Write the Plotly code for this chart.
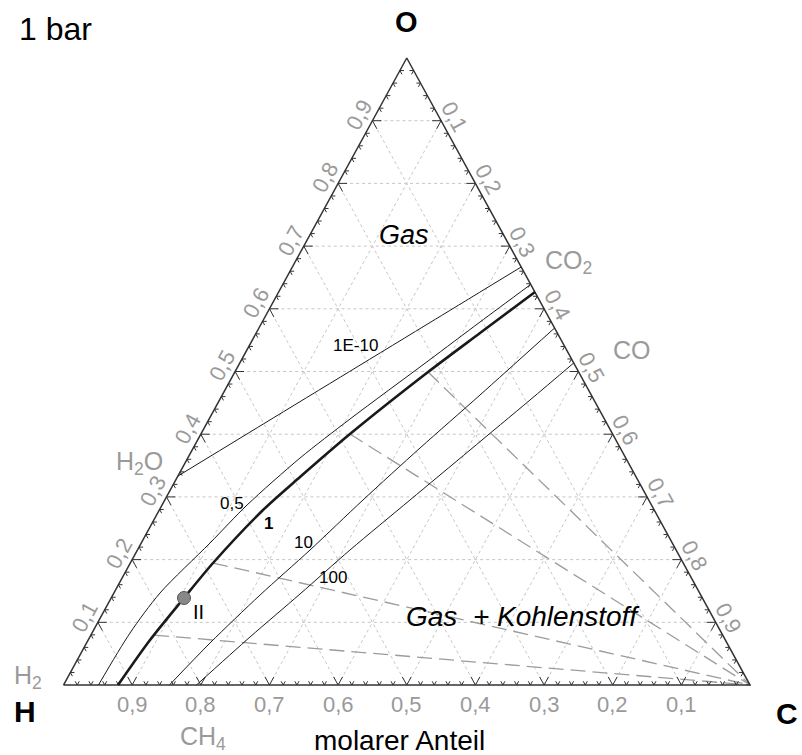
import numpy as np
import plotly.graph_objects as go

# C-H-O ternary at 1 bar: carbon activity isolines in the gas phase.
# Every composition is given as mole fractions (O, C); H = 1 - O - C.

iso_1e10_O = [0.3333, 0.4167, 0.5000, 0.5833, 0.6667]
iso_1e10_C = [0.0000, 0.0833, 0.1667, 0.2500, 0.3333]

iso_05_O = [0.0000, 0.0829, 0.1467, 0.2265, 0.2871, 0.3620, 0.4242, 0.5167, 0.5789, 0.6380]
iso_05_C = [0.0509, 0.0554, 0.0672, 0.1002, 0.1238, 0.1635, 0.2052, 0.2726, 0.3172, 0.3605]

iso_1_O = [0.0000, 0.0718, 0.1388, 0.1946, 0.2791, 0.3317, 0.4003, 0.4992, 0.5614, 0.6268]
iso_1_C = [0.0794, 0.0901, 0.1061, 0.1205, 0.1511, 0.1786, 0.2171, 0.2814, 0.3260, 0.3734]

iso_10_O = [0.0000, 0.0670, 0.1435, 0.2153, 0.2951, 0.3780, 0.4625, 0.5694]
iso_10_C = [0.1543, 0.1799, 0.2145, 0.2514, 0.2887, 0.3303, 0.3754, 0.4306]

iso_100_O = [0.0000, 0.0766, 0.1451, 0.2153, 0.2951, 0.3748, 0.4545, 0.5136]
iso_100_C = [0.1937, 0.2334, 0.2719, 0.3096, 0.3572, 0.4047, 0.4522, 0.4864]

# tie lines from the a_C = 1 boundary to pure carbon
tie_start_O = [0.4992, 0.4003, 0.1946, 0.0797]
tie_start_C = [0.2814, 0.2171, 0.1205, 0.0920]

# marked state "II" on the a_C = 1 boundary
point_O = [0.1388]
point_C = [0.1061]

tick_values = [0.1, 0.2, 0.3, 0.4, 0.5, 0.6, 0.7, 0.8, 0.9]
tick_labels = ["0,1", "0,2", "0,3", "0,4", "0,5", "0,6", "0,7", "0,8", "0,9"]


def proj(O, C):
    """Barycentric (O, C) -> plane: x = C + O/2, y = O (triangle base 1, height 1)."""
    O = np.asarray(O, dtype=float)
    C = np.asarray(C, dtype=float)
    return C + O / 2.0, O


def segments(pairs):
    xs, ys = [], []
    for (o1, c1), (o2, c2) in pairs:
        x, y = proj([o1, o2], [c1, c2])
        xs += list(x) + [None]
        ys += list(y) + [None]
    return xs, ys


fig = go.Figure()

# dotted grid, 0.1 steps for all three components
grid = []
for v in tick_values:
    grid.append(((v, 0.0), (v, 1.0 - v)))          # O = const
    grid.append(((0.0, v), (1.0 - v, v)))          # C = const
    grid.append(((0.0, 1.0 - v), (1.0 - v, 0.0)))  # H = const
gx, gy = segments(grid)
fig.add_trace(go.Scatter(x=gx, y=gy, mode="lines", hoverinfo="skip",
                         line=dict(color="#c6c6c6", width=1, dash="3px,3px")))

# tie lines to the carbon corner
for o, c in zip(tie_start_O, tie_start_C):
    x, y = proj([o, 0.0], [c, 1.0])
    fig.add_trace(go.Scatter(x=x, y=y, mode="lines", hoverinfo="skip",
                             line=dict(color="#9c9c9c", width=1.3, dash="15px,7px")))

# triangle frame H -> C -> O -> H
fx, fy = proj([0, 0, 1, 0], [0, 1, 0, 0])
fig.add_trace(go.Scatter(x=fx, y=fy, mode="lines", hoverinfo="skip",
                         line=dict(color="#333333", width=1.5)))

# tick marks every 0.02, longer every 0.1
ticks = []
for k in range(1, 50):
    v = k / 50.0
    L = 0.013 if k % 5 == 0 else 0.006
    # left edge (C = 0)
    ticks.append(((v, 0.0), (v, L)))
    ticks.append(((v, 0.0), (v - L, L)))
    # bottom edge (O = 0)
    ticks.append(((0.0, v), (L, v)))
    ticks.append(((0.0, v), (L, v - L)))
    # right edge (H = 0)
    ticks.append(((v, 1.0 - v), (v, 1.0 - v - L)))
    ticks.append(((v, 1.0 - v), (v - L, 1.0 - v)))
tx, ty = segments(ticks)
fig.add_trace(go.Scatter(x=tx, y=ty, mode="lines", hoverinfo="skip",
                         line=dict(color="#333333", width=1)))

# carbon activity isolines
for O, C, w in [(iso_1e10_O, iso_1e10_C, 1.0), (iso_05_O, iso_05_C, 1.0),
                (iso_10_O, iso_10_C, 1.0), (iso_100_O, iso_100_C, 1.0),
                (iso_1_O, iso_1_C, 2.6)]:
    x, y = proj(O, C)
    fig.add_trace(go.Scatter(x=x, y=y, mode="lines", hoverinfo="skip",
                             line=dict(color="#1a1a1a", width=w, shape="spline", smoothing=0.8)))

px_, py_ = proj(point_O, point_C)
fig.add_trace(go.Scatter(x=px_, y=py_, mode="markers", hoverinfo="skip",
                         marker=dict(size=13, color="#888888", line=dict(color="#555555", width=1))))

ann = []
font = "Liberation Sans, Arial, sans-serif"
grey = "#9a9a9a"

# axis numbers: O on the left edge, C on the right edge, H along the base
for v, lab in zip(tick_values, tick_labels):
    x, y = proj([v], [0.0])
    ann.append(dict(x=x[0], y=y[0], text=lab, textangle=-61.3, xshift=-13, yshift=6,
                    font=dict(size=22, color=grey, family=font)))
    x, y = proj([1.0 - v], [v])
    ann.append(dict(x=x[0], y=y[0], text=lab, textangle=61.3, xshift=13, yshift=4,
                    font=dict(size=22, color=grey, family=font)))
    x, y = proj([0.0], [1.0 - v])
    ann.append(dict(x=x[0], y=y[0], text=lab, yshift=-19,
                    font=dict(size=22, color=grey, family=font)))


def label(x, y, text, size, color="#000000", **kw):
    ann.append(dict(x=x, y=y, text=text, font=dict(size=size, color=color, family=font), **kw))


label(-0.011, 1.046, "1 bar", 32)
label(0.500, 1.058, "<b>O</b>", 29)
label(-0.056, -0.043, "<b>H</b>", 30)
label(1.054, -0.045, "<b>C</b>", 30)
label(0.490, -0.088, "molarer Anteil", 28)

label(0.203, -0.085, "CH<sub>4</sub>", 25, grey)
label(-0.052, 0.013, "H<sub>2</sub>", 25, grey)
label(0.111, 0.354, "H<sub>2</sub>O", 25, grey)
label(0.735, 0.675, "CO<sub>2</sub>", 25, grey)
label(0.828, 0.534, "CO", 25, grey)

label(0.496, 0.718, "<i>Gas</i>", 27)
label(0.669, 0.110, "<i>Gas  + Kohlenstoff</i>", 28)

label(0.426, 0.541, "1E-10", 17)
label(0.246, 0.290, "0,5", 17)
label(0.298, 0.258, "<b>1</b>", 17)
label(0.349, 0.228, "10", 17)
label(0.393, 0.171, "100", 17)
label(0.196, 0.117, "II", 20)

for a in ann:
    a.setdefault("showarrow", False)
    a.setdefault("xref", "x")
    a.setdefault("yref", "y")

fig.update_layout(
    width=802, height=755,
    margin=dict(l=0, r=0, t=0, b=0),
    paper_bgcolor="white", plot_bgcolor="white",
    showlegend=False,
    annotations=ann,
    xaxis=dict(range=[-0.0925, 1.0757], visible=False, fixedrange=True),
    yaxis=dict(range=[-0.1116, 1.0925], visible=False, fixedrange=True),
)

fig.write_html("out.html")
